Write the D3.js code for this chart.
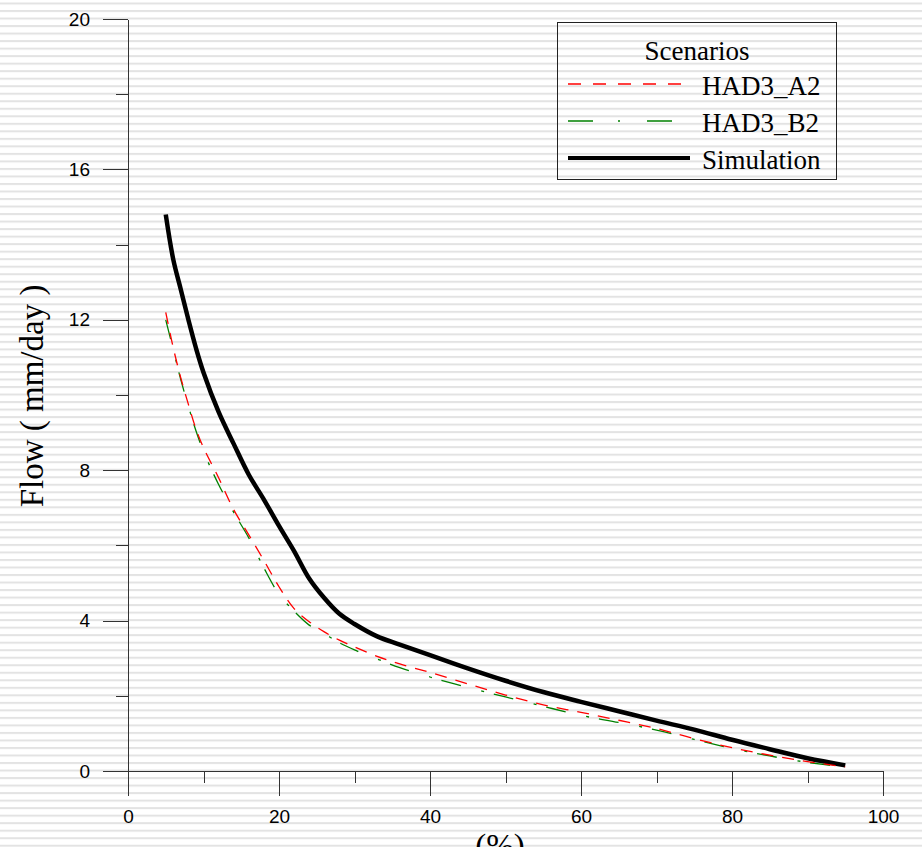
<html lang="en">
  <head>
    <meta charset="UTF-8" />
    <title>Flow duration - scenarios</title>
    <script src="https://d3js.org/d3.v7.min.js"></script>
  </head>
  <style>
    body {
      margin: 0;
    }
    svg {
      display: block;
    }
    .tick text {
      font-family: "Liberation Sans", Arial, sans-serif;
      font-size: 19px;
      fill: #000;
    }
    .axis path,
    .axis line {
      stroke: #333;
      shape-rendering: crispEdges;
    }
    .serif {
      font-family: "Liberation Serif", "Times New Roman", serif;
      fill: #000;
    }
  </style>
  <body>
    <div id="viz"></div>
    <script>
      // exceedance percentage (%)
      var percent = [5, 6, 7, 8, 9, 10, 12, 14, 16, 18, 20, 22, 24, 26, 28, 30,
        33, 36, 40, 45, 50, 55, 60, 65, 70, 75, 80, 85, 90, 95];

      var had3A2 = [12.2, 11.25, 10.45, 9.75, 9.1, 8.6, 7.8, 6.95, 6.28, 5.6, 4.9,
        4.32, 3.97, 3.7, 3.48, 3.3, 3.05, 2.85, 2.62, 2.32, 2.02, 1.76, 1.56,
        1.35, 1.13, 0.86, 0.62, 0.42, 0.25, 0.11];

      var had3B2 = [12.0, 11.2, 10.4, 9.7, 9.05, 8.5, 7.62, 6.88, 6.2, 5.4, 4.7,
        4.25, 3.88, 3.65, 3.41, 3.22, 2.98, 2.75, 2.5, 2.22, 1.97, 1.72, 1.48,
        1.29, 1.09, 0.84, 0.6, 0.4, 0.23, 0.1];

      var simulation = [14.8, 13.6, 12.8, 12.0, 11.25, 10.6, 9.55, 8.7, 7.88, 7.22,
        6.52, 5.85, 5.12, 4.6, 4.18, 3.91, 3.58, 3.36, 3.08, 2.73, 2.4, 2.1, 1.84,
        1.59, 1.34, 1.1, 0.83, 0.58, 0.34, 0.15];

      var xTicks = [0, 20, 40, 60, 80, 100];
      var yTicks = [0, 4, 8, 12, 16, 20];

      var legendTitle = "Scenarios";
      var seriesNames = ["HAD3_A2", "HAD3_B2", "Simulation"];

      var width = 922,
        height = 847;

      var svg = d3
        .select("#viz")
        .append("svg")
        .attr("width", width)
        .attr("height", height);

      // striped background
      var pattern = svg
        .append("defs")
        .append("pattern")
        .attr("id", "stripes")
        .attr("patternUnits", "userSpaceOnUse")
        .attr("width", 10)
        .attr("height", 7.52)
        .attr("patternTransform", "translate(0,2.5)");
      pattern.append("rect").attr("width", 10).attr("height", 7.52).attr("fill", "#fff");
      pattern.append("rect").attr("width", 10).attr("height", 2).attr("fill", "#e3e3e3");

      svg
        .append("rect")
        .attr("width", width)
        .attr("height", height)
        .attr("fill", "url(#stripes)");

      var x = d3.scaleLinear().domain([0, 100]).range([128, 883]);
      var y = d3.scaleLinear().domain([0, 20]).range([771, 19]);

      // minor ticks
      svg
        .append("g")
        .attr("class", "axis")
        .attr("transform", "translate(0,771)")
        .call(d3.axisBottom(x).tickValues(d3.range(10, 100, 20)).tickSize(12).tickSizeOuter(0).tickFormat(""))
        .select(".domain")
        .remove();
      svg
        .append("g")
        .attr("class", "axis")
        .attr("transform", "translate(128,0)")
        .call(d3.axisLeft(y).tickValues(d3.range(2, 20, 4)).tickSize(12).tickSizeOuter(0).tickFormat(""))
        .select(".domain")
        .remove();

      // major axes
      svg
        .append("g")
        .attr("class", "axis")
        .attr("transform", "translate(0,771)")
        .call(d3.axisBottom(x).tickValues(xTicks).tickSize(25).tickSizeOuter(0).tickPadding(14));
      svg
        .append("g")
        .attr("class", "axis")
        .attr("transform", "translate(128,0)")
        .call(d3.axisLeft(y).tickValues(yTicks).tickSize(25).tickSizeOuter(0).tickPadding(13));

      // axis titles
      svg
        .append("text")
        .attr("class", "serif")
        .attr("transform", "translate(43,396) rotate(-90)")
        .attr("text-anchor", "middle")
        .style("font-size", "33px")
        .text("Flow ( mm/day )");

      svg
        .append("text")
        .attr("class", "serif")
        .attr("x", 500)
        .attr("y", 857)
        .attr("text-anchor", "middle")
        .style("font-size", "33px")
        .text("(%)");

      var line = function (vals) {
        return d3
          .line()
          .x(function (d, i) {
            return x(percent[i]);
          })
          .y(function (d) {
            return y(d);
          })
          .curve(d3.curveCatmullRom.alpha(0.5))(vals);
      };

      var series = [
        { name: seriesNames[0], values: had3A2, color: "#ff0000", width: 1.3, dash: "12,9", legendDash: "13,12" },
        { name: seriesNames[1], values: had3B2, color: "#008000", width: 1.3, dash: "20,21,3,10", legendDash: "25,25,2,27" },
        { name: seriesNames[2], values: simulation, color: "#000", width: 4.5, dash: null, legendDash: null }
      ];

      svg
        .selectAll("path.series")
        .data(series.slice().reverse())
        .enter()
        .append("path")
        .attr("class", "series")
        .attr("fill", "none")
        .attr("stroke", function (d) {
          return d.color;
        })
        .attr("stroke-width", function (d) {
          return d.width;
        })
        .attr("stroke-dasharray", function (d) {
          return d.dash;
        })
        .attr("stroke-linejoin", "round")
        .attr("d", function (d) {
          return line(d.values);
        });

      // legend
      var legend = svg.append("g").attr("transform", "translate(557,22)");
      legend
        .append("rect")
        .attr("x", 0.5)
        .attr("y", 0.5)
        .attr("width", 279)
        .attr("height", 157)
        .attr("fill", "none")
        .attr("stroke", "#222");
      legend
        .append("text")
        .attr("class", "serif")
        .attr("x", 140)
        .attr("y", 38)
        .attr("text-anchor", "middle")
        .style("font-size", "27px")
        .text(legendTitle);

      var items = legend
        .selectAll("g.item")
        .data(series)
        .enter()
        .append("g")
        .attr("class", "item")
        .attr("transform", function (d, i) {
          return "translate(0," + (73 + i * 37) + ")";
        });
      items
        .append("line")
        .attr("x1", 11)
        .attr("x2", function (d) {
          return d.dash ? 126 : 133;
        })
        .attr("y1", -11)
        .attr("y2", -11)
        .attr("stroke", function (d) {
          return d.color;
        })
        .attr("stroke-width", function (d) {
          return d.dash ? 1.3 : 4;
        })
        .attr("stroke-dasharray", function (d) {
          return d.legendDash;
        });
      items
        .append("text")
        .attr("class", "serif")
        .attr("x", 145)
        .attr("y", 0)
        .style("font-size", "27px")
        .text(function (d) {
          return d.name;
        });
    </script>
  </body>
</html>
